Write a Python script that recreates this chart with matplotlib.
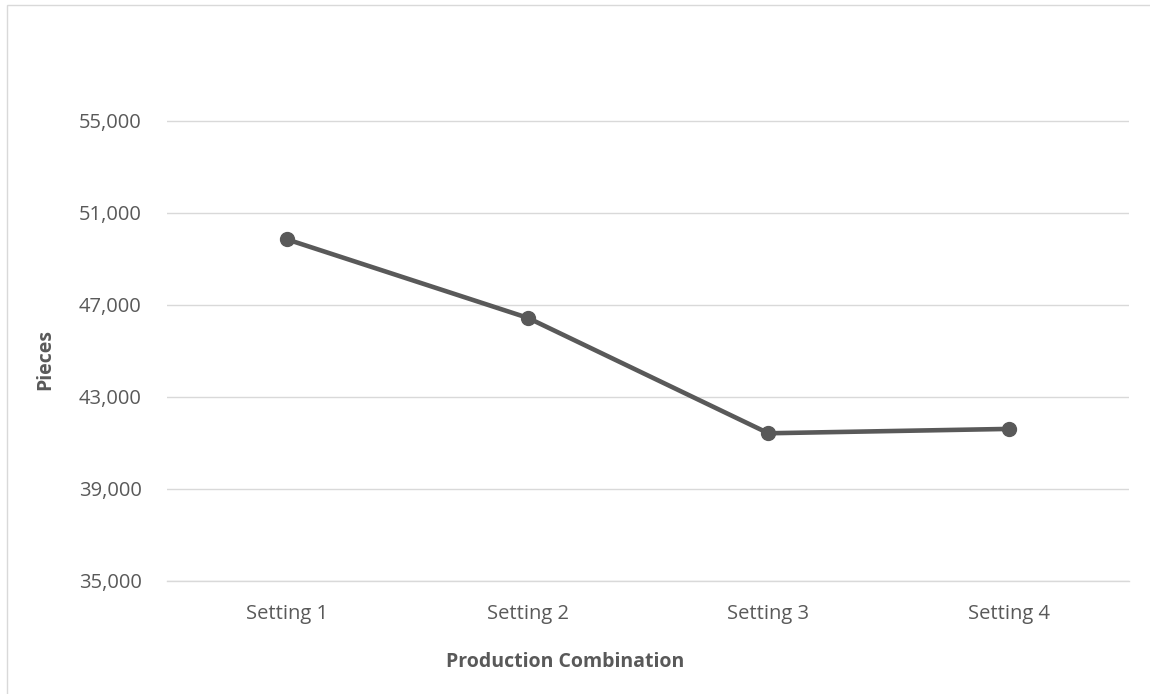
import matplotlib
matplotlib.use("Agg")
import matplotlib.pyplot as plt
from matplotlib.patches import Rectangle
from matplotlib.ticker import FuncFormatter

categories = ["Setting 1", "Setting 2", "Setting 3", "Setting 4"]
pieces = [49840, 46430, 41410, 41600]
y_ticks = [35000, 39000, 43000, 47000, 51000, 55000]

TEXT = "#595959"
LINE = "#595959"
GRID = "#d9d9d9"
FONT = "Open Sans"

W, H = 1150, 694
fig = plt.figure(figsize=(W / 100, H / 100), dpi=100)
fig.patch.set_facecolor("white")

# chart-area frame
fig.patches.append(Rectangle((7 / W, -0.1), 1.2, (H - 5) / H + 0.1,
                             transform=fig.transFigure, fill=False,
                             edgecolor=GRID, linewidth=1.0))

left, right = 166.6 / W, 1129.5 / W
bottom, top = (H - 580.7) / H, (H - 28.7) / H
ax = fig.add_axes([left, bottom, right - left, top - bottom])

x = list(range(len(categories)))
ax.plot(x, pieces, color=LINE, linewidth=3.3, marker="o", markersize=10,
        markerfacecolor=LINE, markeredgecolor=LINE, solid_capstyle="round",
        zorder=3)

ax.set_xlim(-0.5, len(categories) - 0.5)
ax.set_ylim(35000, 59000)
ax.set_yticks(y_ticks)
ax.yaxis.set_major_formatter(FuncFormatter(lambda v, _: f"{int(v):,}"))
ax.set_xticks(x)
ax.set_xticklabels(categories)

ax.grid(axis="y", color=GRID, linewidth=1.0)
ax.set_axisbelow(True)
for s in ax.spines.values():
    s.set_visible(False)
ax.spines["bottom"].set_visible(True)
ax.spines["bottom"].set_color(GRID)
ax.spines["bottom"].set_linewidth(1.0)

ax.tick_params(axis="both", length=0, labelsize=14.5, labelcolor=TEXT)
ax.tick_params(axis="y", pad=18)
ax.tick_params(axis="x", pad=16.5)
for lbl in ax.get_xticklabels() + ax.get_yticklabels():
    lbl.set_fontfamily(FONT)

# axis titles placed in figure pixels
fig.text(565 / W, 1 - 662 / H, "Production Combination", ha="center",
         va="center", fontsize=14, fontweight="bold", color=TEXT,
         family=FONT)
fig.text(45 / W, 1 - 360 / H, "Pieces", ha="center", va="center",
         rotation=90, fontsize=14, fontweight="bold", color=TEXT,
         family=FONT)

fig.savefig("out.png", dpi=100, facecolor="white")
